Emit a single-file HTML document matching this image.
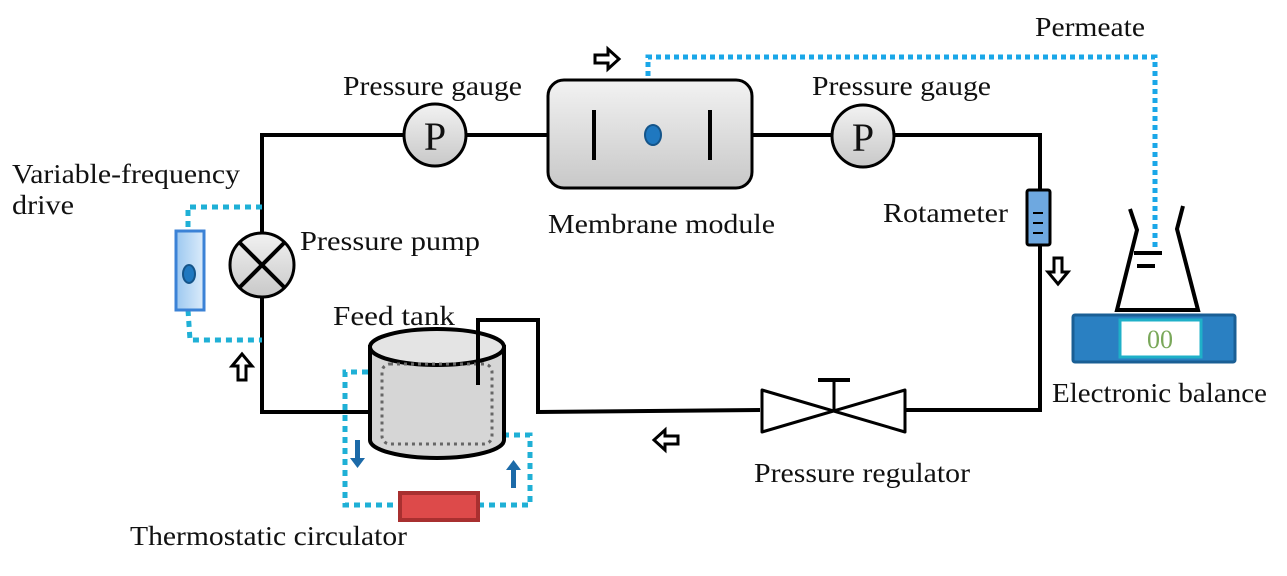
<!DOCTYPE html>
<html><head><meta charset="utf-8"><style>
html,body{margin:0;padding:0;background:#fff}
svg text{font-family:"Liberation Serif",serif;font-size:27px;fill:#111}
</style></head><body>
<svg width="1287" height="571" viewBox="0 0 1287 571" xmlns="http://www.w3.org/2000/svg">
<defs>
<linearGradient id="g" x1="0" y1="0" x2="0" y2="1"><stop offset="0" stop-color="#f2f2f2"/><stop offset="1" stop-color="#c8c8c8"/></linearGradient>
<linearGradient id="b" x1="0" y1="0" x2="1" y2="0"><stop offset="0" stop-color="#9cc8f0"/><stop offset="1" stop-color="#dcecfb"/></linearGradient>
</defs>
<g fill="none" stroke="#000" stroke-width="4">
<polyline points="404,135 262,135 262,412 370,412"/>
<line x1="466" y1="135" x2="548" y2="135"/>
<line x1="752" y1="135" x2="831" y2="135"/>
<polyline points="895,135 1040,135 1040,410 905,410"/>
<polyline points="760,410 538,412 538,320 478,320 478,385"/>
</g>
<g fill="none" stroke="#1fb0d6" stroke-width="5" stroke-dasharray="6,5">
<polyline points="262,207 188,207 188,230"/>
<polyline points="188,310 190,340 262,340"/>
<polyline points="368,372 345,372 345,505 400,505"/>
<polyline points="478,505 530,505 530,435 505,435"/>
</g>
<polyline points="648,130 648,57 1155,57 1155,250" fill="none" stroke="#1aa7e8" stroke-width="5" stroke-dasharray="5,4"/>
<circle cx="435" cy="135" r="31" fill="url(#g)" stroke="#000" stroke-width="3"/>
<text x="435" y="150" text-anchor="middle" style="font-size:40px">P</text>
<circle cx="863" cy="136" r="31" fill="url(#g)" stroke="#000" stroke-width="3"/>
<text x="863" y="151" text-anchor="middle" style="font-size:40px">P</text>
<rect x="548" y="80" width="204" height="108" rx="16" fill="url(#g)" stroke="#000" stroke-width="3"/>
<line x1="594" y1="110" x2="594" y2="160" stroke="#000" stroke-width="4"/>
<line x1="710" y1="110" x2="710" y2="160" stroke="#000" stroke-width="4"/>
<ellipse cx="653" cy="135" rx="8" ry="10" fill="#1f78c0" stroke="#15558a" stroke-width="2"/>
<circle cx="262" cy="265" r="32" fill="url(#g)" stroke="#000" stroke-width="3"/>
<line x1="240" y1="243" x2="284" y2="287" stroke="#000" stroke-width="4"/>
<line x1="284" y1="243" x2="240" y2="287" stroke="#000" stroke-width="4"/>
<rect x="176" y="231" width="28" height="79" fill="url(#b)" stroke="#3b82d6" stroke-width="3"/>
<ellipse cx="189" cy="274" rx="6" ry="9" fill="#1f78c0" stroke="#15558a" stroke-width="2"/>
<rect x="1027" y="190" width="23" height="55" rx="2" fill="#6ea8e0" stroke="#000" stroke-width="3"/>
<g stroke="#000" stroke-width="2"><line x1="1033" y1="213" x2="1043" y2="213"/><line x1="1033" y1="223" x2="1043" y2="223"/><line x1="1033" y1="233" x2="1043" y2="233"/></g>
<path d="M370,347 L370,440 A67,18 0 0 0 504,440 L504,347 Z" fill="#d6d6d6" stroke="#000" stroke-width="4"/>
<ellipse cx="437" cy="347" rx="67" ry="18" fill="#e4e4e4" stroke="#000" stroke-width="4"/>
<rect x="382" y="364" width="110" height="80" rx="8" fill="none" stroke="#666" stroke-width="3" stroke-dasharray="3,4"/>
<polyline points="478,320 478,385" fill="none" stroke="#000" stroke-width="4"/>
<rect x="400" y="493" width="78" height="27" fill="#dd4a4a" stroke="#a83030" stroke-width="4"/>
<path d="M355,440 h5 v18 h5 l-7.5,10 l-7.5,-10 h5 z" fill="#1c6aa8"/>
<path d="M511,488 h5 v-18 h5 l-7.5,-10 l-7.5,10 h5 z" fill="#1c6aa8"/>
<path d="M762,390 L762,432 L905,390 L905,432 Z" fill="#fff" stroke="#000" stroke-width="3" stroke-linejoin="round"/>
<line x1="834" y1="411" x2="834" y2="381" stroke="#000" stroke-width="3"/>
<line x1="818" y1="380" x2="850" y2="380" stroke="#000" stroke-width="4"/>
<g fill="#fff" stroke="#000" stroke-width="3">
<path d="M595,55 h13 v-6 l11,10 l-11,10 v-6 h-13 z"/>
<path d="M1054,258 v14 h-6 l10,12 l10,-12 h-6 v-14 z"/>
<path d="M678,436 h-13 v-6 l-11,10 l11,10 v-6 h13 z"/>
<path d="M238,380 v-14 h-6 l10,-12 l10,12 h-6 v14 z"/>
</g>
<g fill="none" stroke="#000" stroke-width="4">
<polyline points="1130,209 1137,230 1117,310 1198,310 1177,229 1183,206"/>
<line x1="1134" y1="253" x2="1162" y2="253"/>
<line x1="1137" y1="266" x2="1155" y2="266"/>
</g>
<rect x="1073" y="315" width="162" height="47" rx="2" fill="#2a80c2" stroke="#1a5f95" stroke-width="3"/>
<rect x="1120" y="320" width="81" height="37" fill="#fff" stroke="#1fb0c8" stroke-width="3"/>
<text x="1160" y="348" text-anchor="middle" style="fill:#7aa85a;font-size:26px">00</text>
<g lengthAdjust="spacingAndGlyphs">
<text x="1035" y="36" textLength="110" lengthAdjust="spacingAndGlyphs">Permeate</text>
<text x="343" y="95" textLength="179" lengthAdjust="spacingAndGlyphs">Pressure gauge</text>
<text x="812" y="95" textLength="179" lengthAdjust="spacingAndGlyphs">Pressure gauge</text>
<text x="548" y="233" textLength="227" lengthAdjust="spacingAndGlyphs">Membrane module</text>
<text x="883" y="222" textLength="125" lengthAdjust="spacingAndGlyphs">Rotameter</text>
<text x="12" y="183" textLength="228" lengthAdjust="spacingAndGlyphs">Variable-frequency</text>
<text x="12" y="214" textLength="62" lengthAdjust="spacingAndGlyphs">drive</text>
<text x="300" y="250" textLength="180" lengthAdjust="spacingAndGlyphs">Pressure pump</text>
<text x="333" y="325" textLength="122" lengthAdjust="spacingAndGlyphs">Feed tank</text>
<text x="754" y="482" textLength="216" lengthAdjust="spacingAndGlyphs">Pressure regulator</text>
<text x="1052" y="402" textLength="215" lengthAdjust="spacingAndGlyphs">Electronic balance</text>
<text x="130" y="545" textLength="277" lengthAdjust="spacingAndGlyphs">Thermostatic circulator</text>
</g>
</svg>
</body></html>
